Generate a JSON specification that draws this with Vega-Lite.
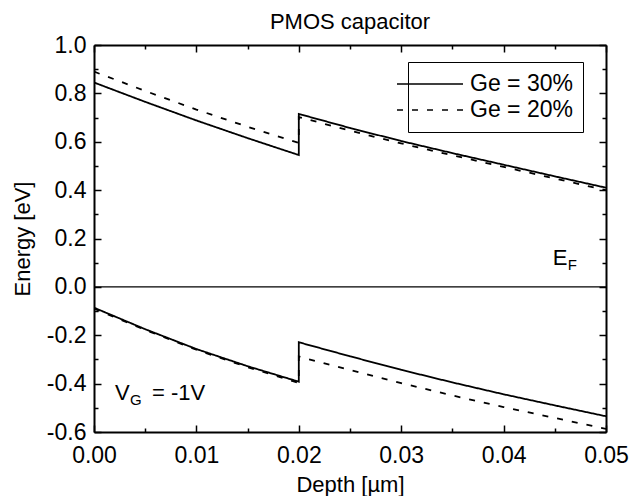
{
  "$schema": "https://vega.github.io/schema/vega-lite/v6.json",
  "width": 512,
  "height": 387,
  "autosize": {"type": "none"},
  "padding": {"left": 94, "top": 45, "right": 24, "bottom": 64},
  "background": "white",
  "title": {"text": "PMOS capacitor", "fontSize": 22, "font": "Liberation Sans", "fontWeight": "normal", "color": "black", "offset": 0, "anchor": "middle"},
  "config": {
    "view": {"stroke": null},
    "font": "Liberation Sans",
    "axis": {
      "grid": false,
      "labelFont": "Liberation Sans",
      "labelFontSize": 23,
      "labelColor": "black",
      "titleFont": "Liberation Sans",
      "titleFontSize": 22,
      "titleFontWeight": "normal",
      "titleColor": "black",
      "domainColor": "black",
      "domainWidth": 2,
      "tickColor": "black",
      "tickWidth": 1.5
    }
  },
  "datasets": {
    "bands": [
      {"ge": "Ge = 30%", "band": "c", "i": 0, "x": 0, "y": 0.845},
      {"ge": "Ge = 30%", "band": "c", "i": 1, "x": 0.005, "y": 0.765},
      {"ge": "Ge = 30%", "band": "c", "i": 2, "x": 0.01, "y": 0.688},
      {"ge": "Ge = 30%", "band": "c", "i": 3, "x": 0.015, "y": 0.615},
      {"ge": "Ge = 30%", "band": "c", "i": 4, "x": 0.02, "y": 0.545},
      {"ge": "Ge = 30%", "band": "c", "i": 5, "x": 0.02, "y": 0.715},
      {"ge": "Ge = 30%", "band": "c", "i": 6, "x": 0.025, "y": 0.657},
      {"ge": "Ge = 30%", "band": "c", "i": 7, "x": 0.03, "y": 0.603},
      {"ge": "Ge = 30%", "band": "c", "i": 8, "x": 0.035, "y": 0.553},
      {"ge": "Ge = 30%", "band": "c", "i": 9, "x": 0.04, "y": 0.505},
      {"ge": "Ge = 30%", "band": "c", "i": 10, "x": 0.045, "y": 0.457},
      {"ge": "Ge = 30%", "band": "c", "i": 11, "x": 0.05, "y": 0.41},
      {"ge": "Ge = 20%", "band": "c", "i": 0, "x": 0, "y": 0.89},
      {"ge": "Ge = 20%", "band": "c", "i": 1, "x": 0.005, "y": 0.81},
      {"ge": "Ge = 20%", "band": "c", "i": 2, "x": 0.01, "y": 0.733},
      {"ge": "Ge = 20%", "band": "c", "i": 3, "x": 0.015, "y": 0.662},
      {"ge": "Ge = 20%", "band": "c", "i": 4, "x": 0.02, "y": 0.595},
      {"ge": "Ge = 20%", "band": "c", "i": 5, "x": 0.02, "y": 0.702},
      {"ge": "Ge = 20%", "band": "c", "i": 6, "x": 0.025, "y": 0.646},
      {"ge": "Ge = 20%", "band": "c", "i": 7, "x": 0.03, "y": 0.593},
      {"ge": "Ge = 20%", "band": "c", "i": 8, "x": 0.035, "y": 0.544},
      {"ge": "Ge = 20%", "band": "c", "i": 9, "x": 0.04, "y": 0.496},
      {"ge": "Ge = 20%", "band": "c", "i": 10, "x": 0.045, "y": 0.448},
      {"ge": "Ge = 20%", "band": "c", "i": 11, "x": 0.05, "y": 0.40},
      {"ge": "Ge = 30%", "band": "v", "i": 0, "x": 0, "y": -0.086},
      {"ge": "Ge = 30%", "band": "v", "i": 1, "x": 0.005, "y": -0.175},
      {"ge": "Ge = 30%", "band": "v", "i": 2, "x": 0.01, "y": -0.257},
      {"ge": "Ge = 30%", "band": "v", "i": 3, "x": 0.015, "y": -0.328},
      {"ge": "Ge = 30%", "band": "v", "i": 4, "x": 0.02, "y": -0.392},
      {"ge": "Ge = 30%", "band": "v", "i": 5, "x": 0.02, "y": -0.229},
      {"ge": "Ge = 30%", "band": "v", "i": 6, "x": 0.025, "y": -0.287},
      {"ge": "Ge = 30%", "band": "v", "i": 7, "x": 0.03, "y": -0.343},
      {"ge": "Ge = 30%", "band": "v", "i": 8, "x": 0.035, "y": -0.395},
      {"ge": "Ge = 30%", "band": "v", "i": 9, "x": 0.04, "y": -0.444},
      {"ge": "Ge = 30%", "band": "v", "i": 10, "x": 0.045, "y": -0.49},
      {"ge": "Ge = 30%", "band": "v", "i": 11, "x": 0.05, "y": -0.535},
      {"ge": "Ge = 20%", "band": "v", "i": 0, "x": 0, "y": -0.09},
      {"ge": "Ge = 20%", "band": "v", "i": 1, "x": 0.005, "y": -0.178},
      {"ge": "Ge = 20%", "band": "v", "i": 2, "x": 0.01, "y": -0.26},
      {"ge": "Ge = 20%", "band": "v", "i": 3, "x": 0.015, "y": -0.332},
      {"ge": "Ge = 20%", "band": "v", "i": 4, "x": 0.02, "y": -0.397},
      {"ge": "Ge = 20%", "band": "v", "i": 5, "x": 0.02, "y": -0.288},
      {"ge": "Ge = 20%", "band": "v", "i": 6, "x": 0.025, "y": -0.344},
      {"ge": "Ge = 20%", "band": "v", "i": 7, "x": 0.03, "y": -0.398},
      {"ge": "Ge = 20%", "band": "v", "i": 8, "x": 0.035, "y": -0.449},
      {"ge": "Ge = 20%", "band": "v", "i": 9, "x": 0.04, "y": -0.497},
      {"ge": "Ge = 20%", "band": "v", "i": 10, "x": 0.045, "y": -0.542},
      {"ge": "Ge = 20%", "band": "v", "i": 11, "x": 0.05, "y": -0.587}
    ]
  },
  "layer": [
    {
      "data": {"name": "bands"},
      "mark": {"type": "line", "stroke": "black", "strokeWidth": 1.8, "clip": true},
      "encoding": {
        "x": {
          "field": "x", "type": "quantitative",
          "scale": {"domain": [0, 0.05], "nice": false, "zero": false},
          "axis": {"orient": "bottom", "values": [0, 0.01, 0.02, 0.03, 0.04, 0.05], "format": ".2f", "tickSize": -7, "labelPadding": 19, "title": "Depth [µm]", "titlePadding": 7, "labelFlush": false}
        },
        "y": {
          "field": "y", "type": "quantitative",
          "scale": {"domain": [-0.6, 1.0], "nice": false, "zero": false},
          "axis": {"orient": "left", "values": [-0.6, -0.4, -0.2, 0, 0.2, 0.4, 0.6, 0.8, 1.0], "format": ".1f", "labelExpr": "replace(datum.label, '−', '-')", "tickSize": -7, "labelPadding": 15, "title": "Energy [eV]", "titlePadding": 12, "labelFlush": false}
        },
        "strokeDash": {
          "field": "ge", "type": "nominal",
          "scale": {"domain": ["Ge = 30%", "Ge = 20%"], "range": [[1, 0], [6, 9]]},
          "legend": {
            "orient": "none", "legendX": 314, "legendY": 17, "title": null,
            "symbolType": "M-3,0H3", "symbolSize": 484,
            "symbolStrokeColor": "black", "symbolStrokeWidth": 1.5, "symbolFillColor": "transparent",
            "labelFontSize": 23, "labelFont": "Liberation Sans", "labelColor": "black", "labelOffset": 28,
            "padding": 10, "rowPadding": 2, "strokeColor": "black", "fillColor": "white"
          }
        },
        "detail": {"field": "band"},
        "order": {"field": "i", "type": "quantitative"}
      }
    },
    {
      "data": {"values": [{}]},
      "mark": {"type": "rule", "stroke": "black", "strokeWidth": 1.2},
      "encoding": {
        "x": {"datum": 0, "type": "quantitative", "axis": {"orient": "bottom", "values": [0.005, 0.015, 0.025, 0.035, 0.045], "tickSize": -4, "labels": false, "domain": false, "title": null}},
        "x2": {"datum": 0.05},
        "y": {"datum": 0, "type": "quantitative", "axis": {"orient": "left", "values": [-0.5, -0.3, -0.1, 0.1, 0.3, 0.5, 0.7, 0.9], "tickSize": -4, "labels": false, "domain": false, "title": null}}
      }
    },
    {
      "data": {"values": [{}]},
      "mark": {"type": "text", "text": "E", "fontSize": 22, "font": "Liberation Sans", "align": "left", "baseline": "alphabetic", "color": "black"},
      "encoding": {
        "x": {"datum": 0.0448, "type": "quantitative", "axis": {"orient": "top", "values": [0, 0.01, 0.02, 0.03, 0.04, 0.05], "tickSize": -7, "labels": false, "domain": true, "title": null}},
        "y": {"datum": 0.0905, "type": "quantitative", "axis": {"orient": "right", "values": [-0.6, -0.4, -0.2, 0, 0.2, 0.4, 0.6, 0.8, 1.0], "tickSize": -7, "labels": false, "domain": true, "title": null}}
      }
    },
    {
      "data": {"values": [{}]},
      "mark": {"type": "text", "text": "F", "fontSize": 15, "font": "Liberation Sans", "align": "left", "baseline": "alphabetic", "color": "black", "dx": 15, "dy": 5},
      "encoding": {
        "x": {"datum": 0.0448, "type": "quantitative", "axis": {"orient": "top", "values": [0.005, 0.015, 0.025, 0.035, 0.045], "tickSize": -4, "labels": false, "domain": false, "title": null}},
        "y": {"datum": 0.0905, "type": "quantitative", "axis": {"orient": "right", "values": [-0.5, -0.3, -0.1, 0.1, 0.3, 0.5, 0.7, 0.9], "tickSize": -4, "labels": false, "domain": false, "title": null}}
      }
    },
    {
      "data": {"values": [{}]},
      "mark": {"type": "text", "text": "V", "fontSize": 22, "font": "Liberation Sans", "align": "left", "baseline": "alphabetic", "color": "black"},
      "encoding": {
        "x": {"datum": 0.00205, "type": "quantitative", "axis": null},
        "y": {"datum": -0.4676, "type": "quantitative", "axis": null}
      }
    },
    {
      "data": {"values": [{}]},
      "mark": {"type": "text", "text": "G", "fontSize": 15, "font": "Liberation Sans", "align": "left", "baseline": "alphabetic", "color": "black", "dx": 15, "dy": 5},
      "encoding": {
        "x": {"datum": 0.00205, "type": "quantitative", "axis": null},
        "y": {"datum": -0.4676, "type": "quantitative", "axis": null}
      }
    },
    {
      "data": {"values": [{}]},
      "mark": {"type": "text", "text": "= -1V", "fontSize": 22, "font": "Liberation Sans", "align": "left", "baseline": "alphabetic", "color": "black", "dx": 37},
      "encoding": {
        "x": {"datum": 0.00205, "type": "quantitative", "axis": null},
        "y": {"datum": -0.4676, "type": "quantitative", "axis": null}
      }
    }
  ],
  "resolve": {"axis": {"x": "independent", "y": "independent"}}
}
